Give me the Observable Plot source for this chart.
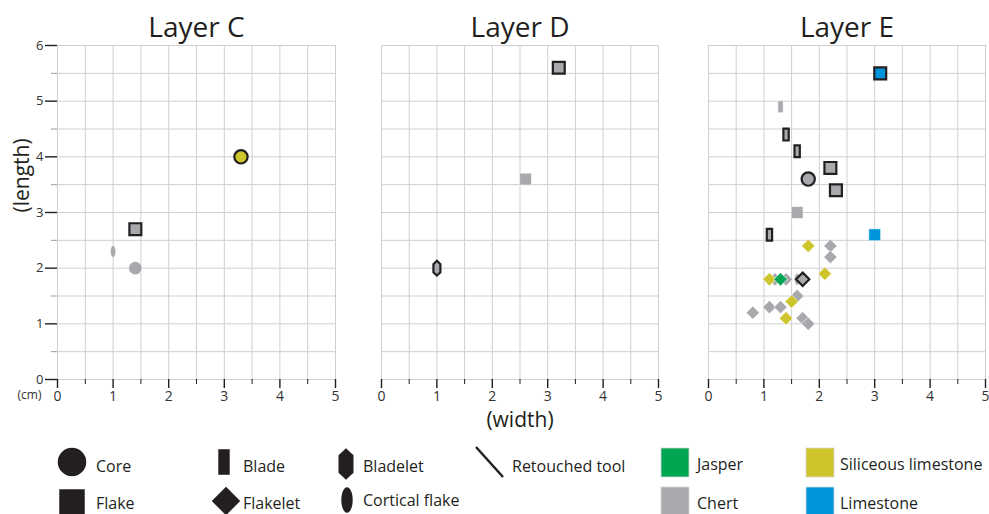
<!DOCTYPE html>
<html><head><meta charset="utf-8">
<script src="https://cdn.jsdelivr.net/npm/d3@7"></script>
<script src="https://cdn.jsdelivr.net/npm/@observablehq/plot@0.6"></script>
<style>
body{margin:0;background:#fff;font-family:"Open Sans",sans-serif;}
#wrap{position:relative;width:989px;height:432px;}
#wrap svg{position:absolute;top:0;}
#legend svg{display:block;}
</style></head><body>
<div id="wrap"></div><div id="legend"></div>
<script>
// ---- data ----
const layers = ["C", "D", "E"];
const rowLayer = ["C","C","C","C",
  "D","D","D",
  "E","E","E","E","E","E","E","E","E","E","E","E","E","E","E","E","E","E","E","E","E","E","E","E","E","E","E","E"];
const rowWidth = [1.4,1.0,1.4,3.3,
  2.6,3.2,1.0,
  3.1,1.3,1.4,1.6,2.2,1.8,2.3,1.6,1.1,3.0,1.8,2.2,2.2,2.1,1.1,1.2,1.3,1.4,1.6,1.7,1.6,1.5,0.8,1.1,1.3,1.4,1.7,1.8,2.8];
const rowLength = [2.0,2.3,2.7,4.0,
  3.6,5.6,2.0,
  5.5,4.9,4.4,4.1,3.8,3.6,3.4,3.0,2.6,2.6,2.4,2.4,2.2,1.9,1.8,1.8,1.8,1.8,1.8,1.8,1.5,1.4,1.2,1.3,1.3,1.1,1.1,1.0,1.3];
const rowType = ["core","cortical","flake","core",
  "flake","flake","bladelet",
  "flake","blade","blade","blade","flake","core","flake","flake","blade","flake","flakelet","flakelet","flakelet","flakelet","flakelet","flakelet","flakelet","flakelet","cortical","flakelet","flakelet","flakelet","flakelet","flakelet","flakelet","flakelet","flakelet","flakelet","cortical"];
const rowMaterial = ["Chert","Chert","Chert","Siliceous limestone",
  "Chert","Chert","Chert",
  "Limestone","Chert","Chert","Chert","Chert","Chert","Chert","Chert","Chert","Limestone","Siliceous limestone","Chert","Chert","Siliceous limestone","Siliceous limestone","Chert","Jasper","Chert","Chert","Chert","Chert","Siliceous limestone","Chert","Chert","Chert","Siliceous limestone","Chert","Chert","Chert"];
const rowRetouched = [0,0,1,1,
  0,1,1,
  1,0,1,1,1,1,1,0,1,0,0,0,0,0,0,0,0,0,0,1,0,0,0,0,0,0,0,0,0];

const materials = ["Chert", "Siliceous limestone", "Jasper", "Limestone"];
const materialColors = ["#a7a9ac", "#cdc52b", "#00a651", "#0095da"];
const typeNames = ["flakelet", "cortical", "flake", "blade", "core", "bladelet"];
const typeLabels = {core: "Core", flake: "Flake", blade: "Blade", flakelet: "Flakelet", bladelet: "Bladelet", cortical: "Cortical flake"};
const xTicks = [0, 1, 2, 3, 4, 5];
const xHalf = [0.5, 1.5, 2.5, 3.5, 4.5];
const yTicks = [0, 1, 2, 3, 4, 5, 6];
const yHalf = [0.5, 1.5, 2.5, 3.5, 4.5, 5.5];
const xGrid = [0, 0.5, 1, 1.5, 2, 2.5, 3, 3.5, 4, 4.5, 5];
const yGrid = [0, 0.5, 1, 1.5, 2, 2.5, 3, 3.5, 4, 4.5, 5, 5.5, 6];

// ---- table ----
const table = rowLayer.map((layer, i) => ({
  layer, w: rowWidth[i], l: rowLength[i], type: rowType[i],
  material: rowMaterial[i], retouched: rowRetouched[i] === 1
})).sort((a, b) => materials.indexOf(a.material) - materials.indexOf(b.material));

// ---- custom symbols ----
const K = 0.5523;
const rOf = s => Math.sqrt(s / Math.PI);
function ellipse(c, rx, ry) {
  c.moveTo(0, -ry);
  c.bezierCurveTo(K * rx, -ry, rx, -K * ry, rx, 0);
  c.bezierCurveTo(rx, K * ry, K * rx, ry, 0, ry);
  c.bezierCurveTo(-K * rx, ry, -rx, K * ry, -rx, 0);
  c.bezierCurveTo(-rx, -K * ry, -K * rx, -ry, 0, -ry);
  c.closePath();
}
const shapes = {
  core: {draw(c, s) { const r = rOf(s) * 0.95; c.moveTo(r, 0); c.arc(0, 0, r, 0, 2 * Math.PI); c.closePath(); }},
  flake: {draw(c, s) { const h = rOf(s) * 0.85; c.rect(-h, -h, 2 * h, 2 * h); }},
  blade: {draw(c, s) { const r = rOf(s); const w = r * 0.38, h = r * 0.85; c.rect(-w, -h, 2 * w, 2 * h); }},
  flakelet: {draw(c, s) { const h = rOf(s) * 0.95; c.moveTo(0, -h); c.lineTo(h, 0); c.lineTo(0, h); c.lineTo(-h, 0); c.closePath(); }},
  bladelet: {draw(c, s) { const r = rOf(s); const w = r * 0.5, h = r * 1.05, k = h * 0.55;
    c.moveTo(0, -h); c.lineTo(w, -k); c.lineTo(w, k); c.lineTo(0, h); c.lineTo(-w, k); c.lineTo(-w, -k); c.closePath(); }},
  cortical: {draw(c, s) { const r = rOf(s); ellipse(c, r * 0.38, r * 0.85); }}
};

// ---- panels ----
const ink = "#231f20";
const panels = [
  {layer: "C", left: 0, ml: 57, mr: 10},
  {layer: "D", left: 361, ml: 20, mr: 10},
  {layer: "E", left: 688, ml: 20, mr: 4}
];
const wrap = document.getElementById("wrap");
for (const p of panels) {
  const rows = table.filter(d => d.layer === p.layer);
  const dotMarks = [];
  for (const ret of [false, true]) {
    for (const t of typeNames) {
      const sub = rows.filter(d => d.type === t && d.retouched === ret);
      if (!sub.length) continue;
      dotMarks.push(Plot.dot(sub, {
        x: "w", y: "l", r: 7, symbol: shapes[t], fill: "material",
        stroke: ret ? ink : "white", strokeWidth: ret ? 2.2 : 0.6
      }));
    }
  }
  const marks = [
    Plot.ruleX(xGrid, {stroke: "#cfcfcf", strokeWidth: 1}),
    Plot.ruleY(yGrid, {stroke: "#cfcfcf", strokeWidth: 1}),
    Plot.axisX({ticks: xTicks, tickFormat: d => String(d), tickSize: 9, tickPadding: 3, stroke: ink, strokeWidth: 1.4, fontSize: 14, label: null}),
    Plot.axisX({ticks: xHalf, tickSize: 5, text: null, stroke: ink, strokeWidth: 1, label: null}),
    Plot.text([`Layer ${p.layer}`], {text: d => d, frameAnchor: "top", dy: -28, fontSize: 28, fill: ink}),
    ...dotMarks
  ];
  if (p.layer === "C") {
    marks.push(
      Plot.axisY({ticks: yTicks, tickFormat: d => String(d), tickSize: 12, tickPadding: 2, stroke: ink, strokeWidth: 1.4, fontSize: 13, label: null}),
      Plot.axisY({ticks: yHalf, tickSize: 6, text: null, stroke: "#999", label: null}),
      Plot.text(["(length)"], {text: d => d, frameAnchor: "left", dx: -35, rotate: -90, fontSize: 21, fill: ink}),
      Plot.text(["(cm)"], {text: d => d, frameAnchor: "bottom-left", dx: -28, dy: 19, textAnchor: "middle", fontSize: 12, fill: "#333"})
    );
  }
  if (p.layer === "D") {
    marks.push(Plot.text(["(width)"], {text: d => d, frameAnchor: "bottom", dy: 47, fontSize: 21, fill: ink}));
  }
  const chart = Plot.plot({
    width: p.ml + (p.layer === "C" ? 278 : 277) + p.mr,
    height: 432,
    marginLeft: p.ml, marginRight: p.mr, marginTop: 45, marginBottom: 53,
    x: {domain: [0, 5], axis: null},
    y: {domain: [0, 6], axis: null},
    color: {domain: materials, range: materialColors},
    style: {fontFamily: '"Open Sans", sans-serif', fontSize: "13px", color: "#333", background: "transparent", overflow: "visible"},
    marks
  });
  chart.style.left = p.left + "px";
  wrap.appendChild(chart);
}

// ---- legend ----
const lg = d3.create("svg").attr("width", 989).attr("height", 82)
  .attr("font-family", '"Open Sans", sans-serif').attr("font-size", 16).attr("fill", ink);
const oy = 432;
const shapeItems = [
  {t: "core", x: 72, y: 462, tx: 96, ty: 466},
  {t: "flake", x: 72, y: 502, tx: 96, ty: 503},
  {t: "blade", x: 224, y: 462, tx: 243, ty: 466},
  {t: "flakelet", x: 226, y: 501, tx: 243, ty: 503},
  {t: "bladelet", x: 346, y: 464, tx: 363, ty: 466},
  {t: "cortical", x: 347, y: 500, tx: 363, ty: 500}
];
for (const it of shapeItems) {
  lg.append("path").attr("transform", `translate(${it.x},${it.y - oy})`)
    .attr("d", d3.symbol(shapes[it.t], Math.PI * 15 * 15)()).attr("fill", ink);
  lg.append("text").attr("x", it.tx).attr("y", it.ty - oy).attr("dy", "0.35em").text(typeLabels[it.t]);
}
lg.append("line").attr("x1", 476).attr("y1", 447 - oy).attr("x2", 503).attr("y2", 477 - oy)
  .attr("stroke", ink).attr("stroke-width", 2.5);
lg.append("text").attr("x", 512).attr("y", 466 - oy).attr("dy", "0.35em").text("Retouched tool");
const matItems = [
  {m: "Jasper", x: 661, y: 448, tx: 697, ty: 464},
  {m: "Chert", x: 661, y: 487, tx: 697, ty: 503},
  {m: "Siliceous limestone", x: 806, y: 448, tx: 840, ty: 464},
  {m: "Limestone", x: 806, y: 487, tx: 840, ty: 503}
];
for (const it of matItems) {
  lg.append("rect").attr("x", it.x).attr("y", it.y - oy).attr("width", 28).attr("height", 29)
    .attr("fill", materialColors[materials.indexOf(it.m)]).attr("stroke", "#d8d8d8").attr("stroke-width", 0.8);
  lg.append("text").attr("x", it.tx).attr("y", it.ty - oy).attr("dy", "0.35em").text(it.m);
}
document.getElementById("legend").appendChild(lg.node());
</script>
</body></html>
